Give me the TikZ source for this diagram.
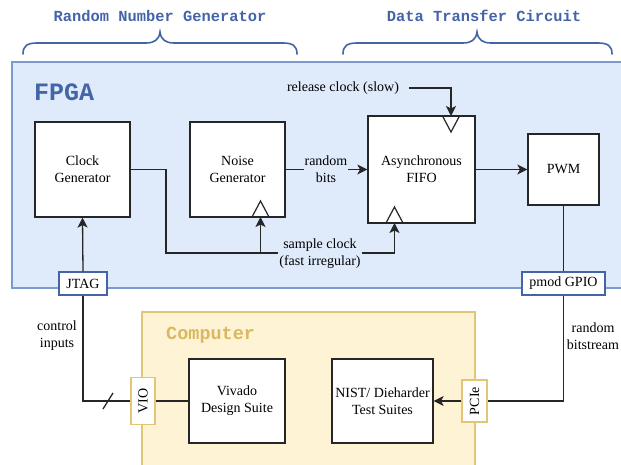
\documentclass[tikz,border=0pt]{standalone}
\usepackage{fontspec}
\setmainfont{Liberation Serif}
\newfontfamily\monob{Liberation Mono}
\usetikzlibrary{arrows.meta,calc}
\definecolor{fpgafill}{HTML}{DFEAFB}
\definecolor{fpgadraw}{HTML}{7A9BCF}
\definecolor{bluetxt}{HTML}{4464A8}
\definecolor{compfill}{HTML}{FFF3D6}
\definecolor{compdraw}{HTML}{E2C676}
\definecolor{goldtxt}{HTML}{D9B85E}
\tikzset{
  blk/.style={draw=black!85, line width=1.2pt, fill=white, align=center, inner sep=0pt,
    font=\fontsize{14}{17}\selectfont},
  port/.style={draw=bluetxt, line width=1.2pt, fill=white, inner sep=0pt,
    font=\fontsize{14}{17}\selectfont},
  gport/.style={draw=compdraw, line width=1.2pt, fill=white, inner sep=0pt,
    font=\fontsize{14}{17}\selectfont},
  conn/.style={draw=black!85, line width=1.3pt},
  arr/.style={conn, -{Stealth[length=10pt,width=10pt,inset=2.5pt]}},
  lbl/.style={align=center, inner sep=1pt, font=\fontsize{14}{17}\selectfont},
  title/.style={text=bluetxt, font=\monob\bfseries\fontsize{15.4}{17}\selectfont},
  brc/.style={draw=bluetxt, line width=1.6pt, line cap=round},
  clktri/.style={draw=black!85, line width=1.2pt, line join=miter}
}
\begin{document}
\begin{tikzpicture}[x=1pt,y=-1pt]
\clip (0,0) rectangle (621,465);
\fill[white] (0,0) rectangle (621,465);

% titles and braces
\node[title] (t1) at (160,16) {Random Number Generator};
\node[title] (t2) at (484,16) {Data Transfer Circuit};
\draw[brc] (23,54) .. controls (23,46) and (27,43) .. (37,43) -- (146,43)
  .. controls (154,43) and (159,40) .. (160,32)
  .. controls (161,40) and (166,43) .. (174,43) -- (283,43)
  .. controls (293,43) and (297,46) .. (297,54);
\draw[brc] (343,54) .. controls (343,46) and (347,43) .. (357,43) -- (463,43)
  .. controls (471,43) and (476,40) .. (477,32)
  .. controls (478,40) and (483,43) .. (491,43) -- (598,43)
  .. controls (608,43) and (612,46) .. (612,54);

% containers
\draw[fill=fpgafill, draw=fpgadraw, line width=1.1pt] (12,62) rectangle (640,288);
\node[anchor=west, text=bluetxt, font=\monob\bfseries\fontsize{25}{28}\selectfont, inner sep=0pt] (fpga) at (34,92) {FPGA};
\draw[fill=compfill, draw=compdraw, line width=1.1pt] (142,312) rectangle (475,480);
\node[anchor=west, text=goldtxt, font=\monob\bfseries\fontsize{18.5}{21}\selectfont, inner sep=0pt] (comp) at (166,335) {Computer};

% blocks
\node[blk, minimum width=95pt, minimum height=95pt] (clk) at (82.5,169.5) {Clock\\Generator};
\node[blk, minimum width=95pt, minimum height=95pt] (noise) at (237.5,169.5) {Noise\\Generator};
\node[blk, minimum width=107pt, minimum height=107pt] (fifo) at (421.5,169.5) {Asynchronous\\FIFO};
\node[blk, minimum width=71pt, minimum height=71pt] (pwm) at (563.5,169.5) {PWM};
\node[blk, minimum width=96pt, minimum height=84pt] (viv) at (237,401) {Vivado\\Design Suite};
\node[blk, minimum width=101pt, minimum height=84pt] (nist) at (382.5,401) {NIST/ Dieharder\\Test Suites};

% clock triangles
\draw[clktri] (252,217) -- (260.5,201) -- (269,217);
\draw[clktri] (386,223) -- (394.5,207) -- (403,223);
\draw[clktri] (442.5,116) -- (451,132) -- (459.5,116);

% ports
\node[port, minimum width=48pt, minimum height=23pt] (jtag) at (83,283.5) {JTAG};
\node[port, minimum width=83pt, minimum height=23pt] (pmod) at (563.5,283.5) {pmod GPIO};
\node[gport, minimum width=24pt, minimum height=47pt] (vio) at (143,401) {\rotatebox{90}{VIO}};
\node[gport, minimum width=25pt, minimum height=42pt] (pcie) at (474.5,401) {\rotatebox{90}{PCIe}};

% coordinates
\coordinate (bend) at (166,253);
\coordinate (ntri) at (260.5,217);
\coordinate (ftri) at (394.5,223);
\coordinate (join) at (260.5,253);
\coordinate (ftop) at (451,116);
\coordinate (sl1) at (103,409);
\coordinate (sl2) at (113,393);

% connectors
\draw[arr] (noise.east) -- (fifo.west);
\node[lbl, fill=fpgafill] (rb) at (326,169) {random\\bits};
\draw[arr] (fifo.east) -- (pwm.west);
\draw[conn] (clk.east) -| (bend) -- (join);
\draw[arr] (join) -| (ftri);
\draw[arr] (join) -- (ntri);
\node[lbl, fill=fpgafill] (sc) at (320,254) {sample clock\\(fast irregular)};
\node[lbl, inner xsep=10pt] (rel) at (343,88) {release clock (slow)};
\draw[arr] (rel.east) -| (ftop);
\draw[arr] (jtag.north) -- (clk.south);
\draw[conn] (pwm.south) -- (pmod.north);
\draw[conn] (jtag.south) |- (vio.west);
\draw[conn] (sl1) -- (sl2);
\draw[conn] (vio.east) -- (viv.west);
\draw[conn] (pmod.south) |- (pcie.east);
\draw[arr] (pcie.west) -- (nist.east);
\node[lbl] (ci) at (57,336) {control\\inputs};
\node[lbl] (rbs) at (593,336) {random\\bitstream};
\end{tikzpicture}
\end{document}
